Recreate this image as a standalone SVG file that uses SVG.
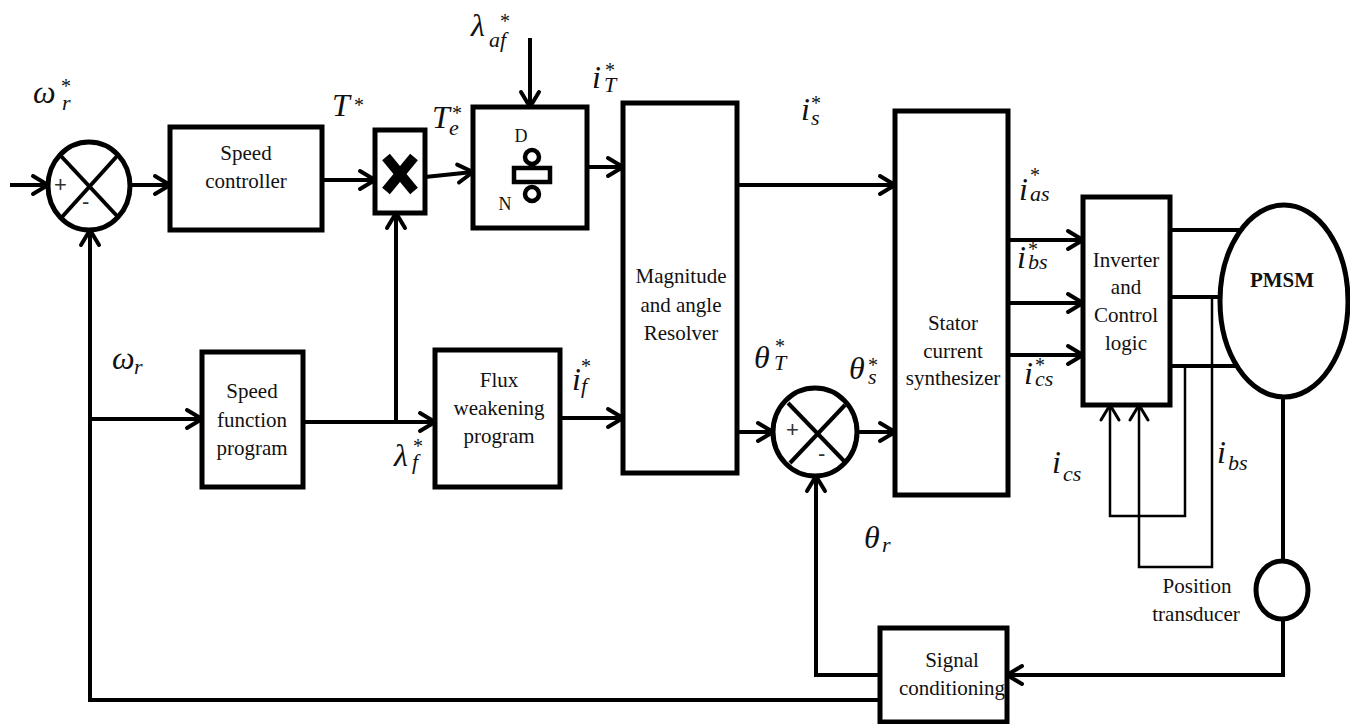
<svg xmlns="http://www.w3.org/2000/svg" width="1350" height="724" viewBox="0 0 1350 724" font-family="'Liberation Serif', serif">
<style>
.box{fill:#fff;stroke:#000;stroke-width:5}
.ln{fill:none;stroke:#000;stroke-width:4}
.thin{fill:none;stroke:#000;stroke-width:2.5}
.lbl{font-size:21px;text-anchor:middle;fill:#111}
.m{font-style:italic;font-size:32px;fill:#111}
.s{font-size:22px}
.st{font-style:normal;font-size:20px}
.sg{font-family:"Liberation Sans",sans-serif;font-size:22px;fill:#333}
</style>
<defs>
<marker id="arr" viewBox="0 0 22 24" markerWidth="22" markerHeight="24" refX="18" refY="12" orient="auto" markerUnits="userSpaceOnUse" overflow="visible">
<path d="M3,3 L18,12 L3,21" fill="none" stroke="#000" stroke-width="4" stroke-linecap="round" stroke-linejoin="round"/>
</marker>
<marker id="arrt" viewBox="0 0 22 24" markerWidth="22" markerHeight="24" refX="18" refY="12" orient="auto" markerUnits="userSpaceOnUse" overflow="visible">
<path d="M3,3 L18,12 L3,21" fill="none" stroke="#000" stroke-width="3" stroke-linecap="round" stroke-linejoin="round"/>
</marker>
</defs>
<rect width="1350" height="724" fill="#fff"/>

<g id="connectors">
<line class="ln" x1="10" y1="185" x2="48" y2="185" marker-end="url(#arr)"/>
<line class="ln" x1="130" y1="185" x2="170" y2="185" marker-end="url(#arr)"/>
<line class="ln" x1="322" y1="180" x2="375" y2="180" marker-end="url(#arr)"/>
<line class="ln" x1="425" y1="177" x2="473" y2="172" marker-end="url(#arr)"/>
<line class="ln" x1="530" y1="38" x2="530" y2="107" marker-end="url(#arr)"/>
<line class="ln" x1="587" y1="167" x2="623" y2="167" marker-end="url(#arr)"/>
<line class="ln" x1="737" y1="185" x2="895" y2="185" marker-end="url(#arr)"/>
<line class="ln" x1="737" y1="432" x2="773" y2="432" marker-end="url(#arr)"/>
<line class="ln" x1="857" y1="432" x2="895" y2="432" marker-end="url(#arr)"/>
<line class="ln" x1="1008" y1="240" x2="1083" y2="240" marker-end="url(#arr)"/>
<line class="ln" x1="1008" y1="303" x2="1083" y2="303" marker-end="url(#arr)"/>
<line class="ln" x1="1008" y1="355" x2="1083" y2="355" marker-end="url(#arr)"/>
<line class="ln" x1="1170" y1="230" x2="1240" y2="230"/>
<line class="ln" x1="1170" y1="297" x2="1221" y2="297"/>
<line class="ln" x1="1170" y1="366" x2="1237" y2="366"/>
<polyline class="thin" points="1185,366 1185,516 1110,516 1110,405" marker-end="url(#arrt)"/>
<polyline class="thin" points="1212,297 1212,567 1139,567 1139,405" marker-end="url(#arrt)"/>
<line class="ln" x1="1283" y1="397" x2="1283" y2="560"/>
<polyline class="ln" points="1283,620 1283,675 1007,675" marker-end="url(#arr)"/>
<polyline class="ln" points="880,675 816,675 816,476" marker-end="url(#arr)"/>
<polyline class="ln" points="880,700 90,700 90,230" marker-end="url(#arr)"/>
<line class="ln" x1="90" y1="419" x2="202" y2="419" marker-end="url(#arr)"/>
<line class="ln" x1="303" y1="422" x2="435" y2="422" marker-end="url(#arr)"/>
<line class="ln" x1="396" y1="422" x2="396" y2="213" marker-end="url(#arr)"/>
<line class="ln" x1="560" y1="418" x2="623" y2="418" marker-end="url(#arr)"/>
</g>

<g id="sum1">
<ellipse cx="89" cy="186" rx="41" ry="44" fill="#fff" stroke="#000" stroke-width="5"/>
<line class="ln" x1="60" y1="155" x2="118" y2="217"/>
<line class="ln" x1="118" y1="155" x2="62" y2="217"/>
<text class="sg" x="54" y="192">+</text>
<text class="sg" x="82" y="209">-</text>
</g>

<g id="speed-controller">
<rect class="box" x="170" y="127" width="152" height="103"/>
<text class="lbl" x="246" y="160" font-family="Liberation Serif, serif">Speed</text>
<text class="lbl" x="246" y="188" font-family="Liberation Serif, serif">controller</text>
</g>

<g id="multiplier">
<rect class="box" x="375" y="130" width="50" height="83"/>
<line x1="386" y1="157" x2="414" y2="191" stroke="#000" stroke-width="10"/>
<line x1="414" y1="157" x2="386" y2="191" stroke="#000" stroke-width="10"/>
</g>

<g id="divider">
<rect class="box" x="473" y="107" width="114" height="121"/>
<text class="lbl" x="521" y="142" style="font-size:18px">D</text>
<text class="lbl" x="505" y="210" style="font-size:18px">N</text>
<circle cx="532" cy="157" r="7" fill="#fff" stroke="#000" stroke-width="4.5"/>
<circle cx="532" cy="194" r="7" fill="#fff" stroke="#000" stroke-width="4.5"/>
<rect x="514" y="168" width="36" height="14" fill="#fff" stroke="#000" stroke-width="4.5"/>
</g>

<g id="resolver">
<rect class="box" x="623" y="103" width="114" height="370"/>
<text class="lbl" x="681" y="283">Magnitude</text>
<text class="lbl" x="681" y="312">and angle</text>
<text class="lbl" x="681" y="340">Resolver</text>
</g>

<g id="speed-function">
<rect class="box" x="202" y="352" width="101" height="135"/>
<text class="lbl" x="252" y="398">Speed</text>
<text class="lbl" x="252" y="427">function</text>
<text class="lbl" x="252" y="455">program</text>
</g>

<g id="flux-weakening">
<rect class="box" x="435" y="350" width="125" height="137"/>
<text class="lbl" x="499" y="387">Flux</text>
<text class="lbl" x="499" y="415">weakening</text>
<text class="lbl" x="499" y="443">program</text>
</g>

<g id="sum2">
<ellipse cx="815" cy="432" rx="42" ry="44" fill="#fff" stroke="#000" stroke-width="5"/>
<line class="ln" x1="788" y1="403" x2="845" y2="462"/>
<line class="ln" x1="845" y1="405" x2="790" y2="463"/>
<text class="sg" x="786" y="437">+</text>
<text class="sg" x="818" y="461">-</text>
</g>

<g id="stator">
<rect class="box" x="895" y="111" width="113" height="384"/>
<text class="lbl" x="953" y="330">Stator</text>
<text class="lbl" x="953" y="358">current</text>
<text class="lbl" x="953" y="385">synthesizer</text>
</g>

<g id="inverter">
<rect class="box" x="1083" y="197" width="87" height="208"/>
<text class="lbl" x="1126" y="267">Inverter</text>
<text class="lbl" x="1126" y="294">and</text>
<text class="lbl" x="1126" y="322">Control</text>
<text class="lbl" x="1126" y="350">logic</text>
</g>

<g id="pmsm">
<ellipse cx="1284" cy="301" rx="64" ry="96" fill="#fff" stroke="#000" stroke-width="5"/>
<text class="lbl" x="1282" y="287" style="font-weight:bold">PMSM</text>
</g>

<g id="position-transducer">
<ellipse cx="1282" cy="590" rx="26" ry="29" fill="#fff" stroke="#000" stroke-width="5"/>
<text class="lbl" x="1197" y="593">Position</text>
<text class="lbl" x="1196" y="621">transducer</text>
</g>

<g id="signal-conditioning">
<rect class="box" x="880" y="628" width="127" height="94"/>
<text class="lbl" x="952" y="667">Signal</text>
<text class="lbl" x="952" y="695">conditioning</text>
</g>

<g id="labels">
<text class="m" x="33" y="103">ω<tspan class="st" x="61" y="93">*</tspan><tspan class="s" x="62" y="110">r</tspan></text>
<text class="m" x="332" y="116">T<tspan class="st" x="354" y="112">*</tspan></text>
<text class="m" x="432" y="128">T<tspan class="st" x="452" y="120">*</tspan><tspan class="s" x="449" y="135">e</tspan></text>
<text class="m" x="471" y="36">λ<tspan class="st" x="500" y="28">*</tspan><tspan class="s" x="489" y="47">af</tspan></text>
<text class="m" x="592" y="88">i<tspan class="st" x="605" y="77">*</tspan><tspan class="s" x="604" y="92">T</tspan></text>
<text class="m" x="801" y="120">i<tspan class="st" x="811" y="110">*</tspan><tspan class="s" x="811" y="125">s</tspan></text>
<text class="m" x="754" y="368">θ<tspan class="st" x="775" y="353">*</tspan><tspan class="s" x="774" y="370">T</tspan></text>
<text class="m" x="849" y="379">θ<tspan class="st" x="868" y="372">*</tspan><tspan class="s" x="868" y="384">s</tspan></text>
<text class="m" x="864" y="548">θ<tspan class="s" x="882" y="552">r</tspan></text>
<text class="m" x="572" y="390">i<tspan class="st" x="581" y="373">*</tspan><tspan class="s" x="581" y="393">f</tspan></text>
<text class="m" x="394" y="466">λ<tspan class="st" x="413" y="453">*</tspan><tspan class="s" x="412" y="469">f</tspan></text>
<text class="m" x="112" y="369">ω<tspan class="s" x="134" y="374">r</tspan></text>
<text class="m" x="1019" y="200">i<tspan class="st" x="1030" y="182">*</tspan><tspan class="s" x="1030" y="201">as</tspan></text>
<text class="m" x="1017" y="268">i<tspan class="st" x="1028" y="256">*</tspan><tspan class="s" x="1028" y="269">bs</tspan></text>
<text class="m" x="1024" y="384">i<tspan class="st" x="1035" y="372">*</tspan><tspan class="s" x="1035" y="386">cs</tspan></text>
<text class="m" x="1052" y="473">i<tspan class="s" x="1063" y="481">cs</tspan></text>
<text class="m" x="1217" y="463">i<tspan class="s" x="1228" y="470">bs</tspan></text>
</g>
</svg>
